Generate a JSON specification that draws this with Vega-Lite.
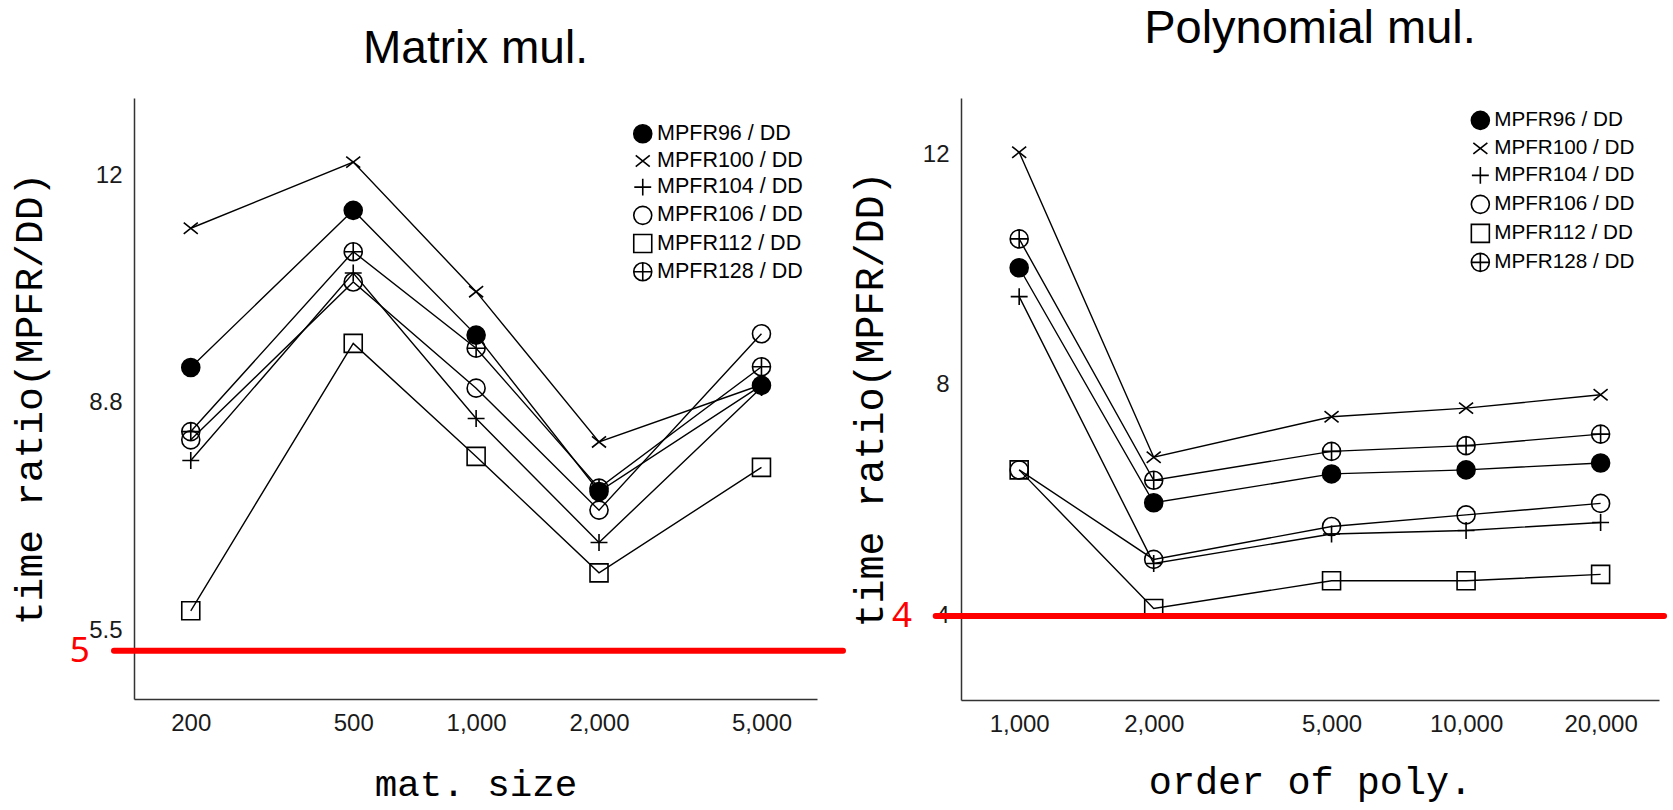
{
  "$schema": "https://vega.github.io/schema/vega-lite/v6.json",
  "background": "white",
  "padding": {"left": 9, "top": 5, "right": 5, "bottom": 0},
  "datasets": {
    "ratios": [
      {"task": "matrix", "n": 200, "series": "MPFR96 / DD", "ratio": 9.31},
      {"task": "matrix", "n": 500, "series": "MPFR96 / DD", "ratio": 11.59},
      {"task": "matrix", "n": 1000, "series": "MPFR96 / DD", "ratio": 9.78},
      {"task": "matrix", "n": 2000, "series": "MPFR96 / DD", "ratio": 7.51},
      {"task": "matrix", "n": 5000, "series": "MPFR96 / DD", "ratio": 9.05},
      {"task": "matrix", "n": 200, "series": "MPFR100 / DD", "ratio": 11.33},
      {"task": "matrix", "n": 500, "series": "MPFR100 / DD", "ratio": 12.29},
      {"task": "matrix", "n": 1000, "series": "MPFR100 / DD", "ratio": 10.41},
      {"task": "matrix", "n": 2000, "series": "MPFR100 / DD", "ratio": 8.23},
      {"task": "matrix", "n": 5000, "series": "MPFR100 / DD", "ratio": 9.06},
      {"task": "matrix", "n": 200, "series": "MPFR104 / DD", "ratio": 7.96},
      {"task": "matrix", "n": 500, "series": "MPFR104 / DD", "ratio": 10.68},
      {"task": "matrix", "n": 1000, "series": "MPFR104 / DD", "ratio": 8.57},
      {"task": "matrix", "n": 2000, "series": "MPFR104 / DD", "ratio": 6.77},
      {"task": "matrix", "n": 5000, "series": "MPFR104 / DD", "ratio": 9.02},
      {"task": "matrix", "n": 200, "series": "MPFR106 / DD", "ratio": 8.26},
      {"task": "matrix", "n": 500, "series": "MPFR106 / DD", "ratio": 10.55},
      {"task": "matrix", "n": 1000, "series": "MPFR106 / DD", "ratio": 9.01},
      {"task": "matrix", "n": 2000, "series": "MPFR106 / DD", "ratio": 7.24},
      {"task": "matrix", "n": 5000, "series": "MPFR106 / DD", "ratio": 9.80},
      {"task": "matrix", "n": 200, "series": "MPFR112 / DD", "ratio": 5.78},
      {"task": "matrix", "n": 500, "series": "MPFR112 / DD", "ratio": 9.66},
      {"task": "matrix", "n": 1000, "series": "MPFR112 / DD", "ratio": 8.02},
      {"task": "matrix", "n": 2000, "series": "MPFR112 / DD", "ratio": 6.33},
      {"task": "matrix", "n": 5000, "series": "MPFR112 / DD", "ratio": 7.86},
      {"task": "matrix", "n": 200, "series": "MPFR128 / DD", "ratio": 8.38},
      {"task": "matrix", "n": 500, "series": "MPFR128 / DD", "ratio": 10.99},
      {"task": "matrix", "n": 1000, "series": "MPFR128 / DD", "ratio": 9.59},
      {"task": "matrix", "n": 2000, "series": "MPFR128 / DD", "ratio": 7.56},
      {"task": "matrix", "n": 5000, "series": "MPFR128 / DD", "ratio": 9.32},
      {"task": "poly", "n": 1000, "series": "MPFR96 / DD", "ratio": 10.03},
      {"task": "poly", "n": 2000, "series": "MPFR96 / DD", "ratio": 5.96},
      {"task": "poly", "n": 5000, "series": "MPFR96 / DD", "ratio": 6.46},
      {"task": "poly", "n": 10000, "series": "MPFR96 / DD", "ratio": 6.53},
      {"task": "poly", "n": 20000, "series": "MPFR96 / DD", "ratio": 6.65},
      {"task": "poly", "n": 1000, "series": "MPFR100 / DD", "ratio": 12.03},
      {"task": "poly", "n": 2000, "series": "MPFR100 / DD", "ratio": 6.75},
      {"task": "poly", "n": 5000, "series": "MPFR100 / DD", "ratio": 7.45},
      {"task": "poly", "n": 10000, "series": "MPFR100 / DD", "ratio": 7.60},
      {"task": "poly", "n": 20000, "series": "MPFR100 / DD", "ratio": 7.83},
      {"task": "poly", "n": 1000, "series": "MPFR104 / DD", "ratio": 9.53},
      {"task": "poly", "n": 2000, "series": "MPFR104 / DD", "ratio": 4.91},
      {"task": "poly", "n": 5000, "series": "MPFR104 / DD", "ratio": 5.42},
      {"task": "poly", "n": 10000, "series": "MPFR104 / DD", "ratio": 5.48},
      {"task": "poly", "n": 20000, "series": "MPFR104 / DD", "ratio": 5.62},
      {"task": "poly", "n": 1000, "series": "MPFR106 / DD", "ratio": 6.53},
      {"task": "poly", "n": 2000, "series": "MPFR106 / DD", "ratio": 4.98},
      {"task": "poly", "n": 5000, "series": "MPFR106 / DD", "ratio": 5.55},
      {"task": "poly", "n": 10000, "series": "MPFR106 / DD", "ratio": 5.75},
      {"task": "poly", "n": 20000, "series": "MPFR106 / DD", "ratio": 5.95},
      {"task": "poly", "n": 1000, "series": "MPFR112 / DD", "ratio": 6.53},
      {"task": "poly", "n": 2000, "series": "MPFR112 / DD", "ratio": 4.13},
      {"task": "poly", "n": 5000, "series": "MPFR112 / DD", "ratio": 4.61},
      {"task": "poly", "n": 10000, "series": "MPFR112 / DD", "ratio": 4.61},
      {"task": "poly", "n": 20000, "series": "MPFR112 / DD", "ratio": 4.72},
      {"task": "poly", "n": 1000, "series": "MPFR128 / DD", "ratio": 10.53},
      {"task": "poly", "n": 2000, "series": "MPFR128 / DD", "ratio": 6.35},
      {"task": "poly", "n": 5000, "series": "MPFR128 / DD", "ratio": 6.85},
      {"task": "poly", "n": 10000, "series": "MPFR128 / DD", "ratio": 6.95},
      {"task": "poly", "n": 20000, "series": "MPFR128 / DD", "ratio": 7.15}
    ]
  },
  "spacing": 144,
  "bounds": "flush",
  "resolve": {
    "scale": {"shape": "independent", "fill": "independent", "color": "independent", "x": "independent", "y": "independent"},
    "legend": {"shape": "independent", "fill": "independent", "color": "independent"}
  },
  "hconcat": [
    {
      "width": 683,
      "height": 601,
      "title": {"text": "Matrix mul.", "offset": 25.5, "fontSize": 46},
      "encoding": {
        "x": {"field": "n", "type": "quantitative", "scale": {"type": "log", "domain": [145.2, 6839], "nice": false},
              "axis": {"title": "mat. size", "values": [200, 500, 1000, 2000, 5000], "format": ",", "titleFontSize": 37.5, "titlePadding": 30}},
        "y": {"field": "ratio", "type": "quantitative", "scale": {"domain": [4.5, 13.22], "nice": false, "zero": false},
              "axis": {"title": "time ratio(MPFR/DD)", "values": [5.5, 8.8, 12.1], "format": ".2r", "titleFontSize": 39.7, "titlePadding": 39}}
      },
      "layer": [
        {
          "data": {"name": "ratios"},
          "transform": [{"filter": "datum.task === 'matrix'"}],
          "mark": {"type": "line", "color": "black", "strokeWidth": 1.4},
          "encoding": {
            "detail": {"field": "series", "type": "nominal"}
          }
        },
        {
          "data": {"name": "ratios"},
          "transform": [{"filter": "datum.task === 'matrix'"}],
          "mark": {"type": "point", "filled": false, "strokeWidth": 1.6, "size": 324, "opacity": 1},
          "encoding": {
            "color": {"field": "series", "type": "nominal",
              "scale": {"domain": ["MPFR96 / DD", "MPFR100 / DD", "MPFR104 / DD", "MPFR106 / DD", "MPFR112 / DD", "MPFR128 / DD"],
                        "range": ["black", "black", "black", "black", "black", "black"]},
              "legend": {"title": null, "orient": "none", "legendX": 498, "legendY": 25, "rowPadding": 3.2,
                "encode": {"symbols": {"update": {"fill": {"signal": "datum.value === 'MPFR96 / DD' ? 'black' : 'transparent'"}, "stroke": {"value": "black"}, "strokeOpacity": {"value": 1}, "strokeWidth": {"value": 1.6}}}}}},
            "shape": {"field": "series", "type": "nominal",
              "scale": {"domain": ["MPFR96 / DD", "MPFR100 / DD", "MPFR104 / DD", "MPFR106 / DD", "MPFR112 / DD", "MPFR128 / DD"],
                        "range": ["circle", "M-0.78,-0.62L0.78,0.62M-0.78,0.62L0.78,-0.62", "M-0.94,0L0.94,0M0,-0.94L0,0.94", "circle", "square", "M-1,0A1,1,0,1,1,1,0A1,1,0,1,1,-1,0ZM-1,0L1,0M0,-1L0,1"]},
              "legend": {"title": null, "orient": "none", "legendX": 498, "legendY": 25, "rowPadding": 3.2,
                "encode": {"symbols": {"update": {"fill": {"signal": "datum.value === 'MPFR96 / DD' ? 'black' : 'transparent'"}, "stroke": {"value": "black"}, "strokeOpacity": {"value": 1}, "strokeWidth": {"value": 1.6}}}}}},
            "fill": {"field": "series", "type": "nominal",
              "scale": {"domain": ["MPFR96 / DD", "MPFR100 / DD", "MPFR104 / DD", "MPFR106 / DD", "MPFR112 / DD", "MPFR128 / DD"],
                        "range": ["black", "transparent", "transparent", "transparent", "transparent", "transparent"]},
              "legend": null}
          }
        },
        {
          "data": {"values": [{"n": 129.7, "to": 7918, "ratio": 5.2}]},
          "mark": {"type": "rule", "color": "#ff0000", "strokeWidth": 6, "strokeCap": "round"},
          "encoding": {
            "x2": {"field": "to"}
          }
        },
        {
          "data": {"values": [{"n": 107, "ratio": 5.2, "label": "5"}]},
          "mark": {"type": "text", "color": "#ff0000", "font": "Noto Sans", "fontSize": 35, "align": "center", "baseline": "middle"},
          "encoding": {
            "text": {"field": "label"}
          }
        }
      ]
    },
    {
      "width": 698,
      "height": 602,
      "title": {"text": "Polynomial mul.", "offset": 45, "fontSize": 47},
      "encoding": {
        "x": {"field": "n", "type": "quantitative", "scale": {"type": "log", "domain": [741, 27020], "nice": false},
              "axis": {"title": "order of poly.", "values": [1000, 2000, 5000, 10000, 20000], "format": ",", "titleFontSize": 38.5, "titlePadding": 27}},
        "y": {"field": "ratio", "type": "quantitative", "scale": {"domain": [2.545, 12.97], "nice": false, "zero": false},
              "axis": {"title": "time ratio(MPFR/DD)", "values": [4, 8, 12], "format": "d", "titleFontSize": 40, "titlePadding": 32}}
      },
      "layer": [
        {
          "data": {"name": "ratios"},
          "transform": [{"filter": "datum.task === 'poly'"}],
          "mark": {"type": "line", "color": "black", "strokeWidth": 1.4},
          "encoding": {
            "detail": {"field": "series", "type": "nominal"}
          }
        },
        {
          "data": {"name": "ratios"},
          "transform": [{"filter": "datum.task === 'poly'"}],
          "mark": {"type": "point", "filled": false, "strokeWidth": 1.6, "size": 324, "opacity": 1},
          "encoding": {
            "color": {"field": "series", "type": "nominal",
              "scale": {"domain": ["MPFR96 / DD", "MPFR100 / DD", "MPFR104 / DD", "MPFR106 / DD", "MPFR112 / DD", "MPFR128 / DD"],
                        "range": ["black", "black", "black", "black", "black", "black"]},
              "legend": {"title": null, "orient": "none", "legendX": 509, "legendY": 12, "labelFontSize": 20.7, "rowPadding": 4,
                "encode": {"symbols": {"update": {"fill": {"signal": "datum.value === 'MPFR96 / DD' ? 'black' : 'transparent'"}, "stroke": {"value": "black"}, "strokeOpacity": {"value": 1}, "strokeWidth": {"value": 1.6}}}}}},
            "shape": {"field": "series", "type": "nominal",
              "scale": {"domain": ["MPFR96 / DD", "MPFR100 / DD", "MPFR104 / DD", "MPFR106 / DD", "MPFR112 / DD", "MPFR128 / DD"],
                        "range": ["circle", "M-0.78,-0.62L0.78,0.62M-0.78,0.62L0.78,-0.62", "M-0.94,0L0.94,0M0,-0.94L0,0.94", "circle", "square", "M-1,0A1,1,0,1,1,1,0A1,1,0,1,1,-1,0ZM-1,0L1,0M0,-1L0,1"]},
              "legend": {"title": null, "orient": "none", "legendX": 509, "legendY": 12, "labelFontSize": 20.7, "rowPadding": 4,
                "encode": {"symbols": {"update": {"fill": {"signal": "datum.value === 'MPFR96 / DD' ? 'black' : 'transparent'"}, "stroke": {"value": "black"}, "strokeOpacity": {"value": 1}, "strokeWidth": {"value": 1.6}}}}}},
            "fill": {"field": "series", "type": "nominal",
              "scale": {"domain": ["MPFR96 / DD", "MPFR100 / DD", "MPFR104 / DD", "MPFR106 / DD", "MPFR112 / DD", "MPFR128 / DD"],
                        "range": ["black", "transparent", "transparent", "transparent", "transparent", "transparent"]},
              "legend": null}
          }
        },
        {
          "data": {"values": [{"n": 650.5, "to": 27730, "ratio": 4}]},
          "mark": {"type": "rule", "color": "#ff0000", "strokeWidth": 6, "strokeCap": "round"},
          "encoding": {
            "x2": {"field": "to"}
          }
        },
        {
          "data": {"values": [{"n": 547, "ratio": 4, "label": "4"}]},
          "mark": {"type": "text", "color": "#ff0000", "font": "Noto Sans", "fontSize": 35, "align": "center", "baseline": "middle"},
          "encoding": {
            "text": {"field": "label"}
          }
        }
      ]
    }
  ],
  "config": {
    "view": {"stroke": null},
    "font": "Liberation Sans",
    "title": {"font": "Liberation Sans", "fontSize": 45, "fontWeight": "normal", "color": "black", "anchor": "middle"},
    "axis": {
      "labelFont": "Liberation Sans", "labelFontSize": 24, "labelColor": "#1a1a1a", "labelPadding": 12,
      "ticks": false, "tickSize": 0, "grid": false,
      "domainColor": "#333333", "domainWidth": 1.5,
      "titleFont": "Liberation Mono", "titleFontWeight": "normal", "titleColor": "black",
      "labelFlush": false, "labelOverlap": false
    },
    "legend": {
      "labelFont": "Liberation Sans", "labelFontSize": 21.5, "labelColor": "black",
      "rowPadding": 3.2, "labelOffset": 3.5, "symbolSize": 324, "symbolStrokeWidth": 1.6,
      "symbolStrokeColor": "black", "padding": 0
    }
  }
}
